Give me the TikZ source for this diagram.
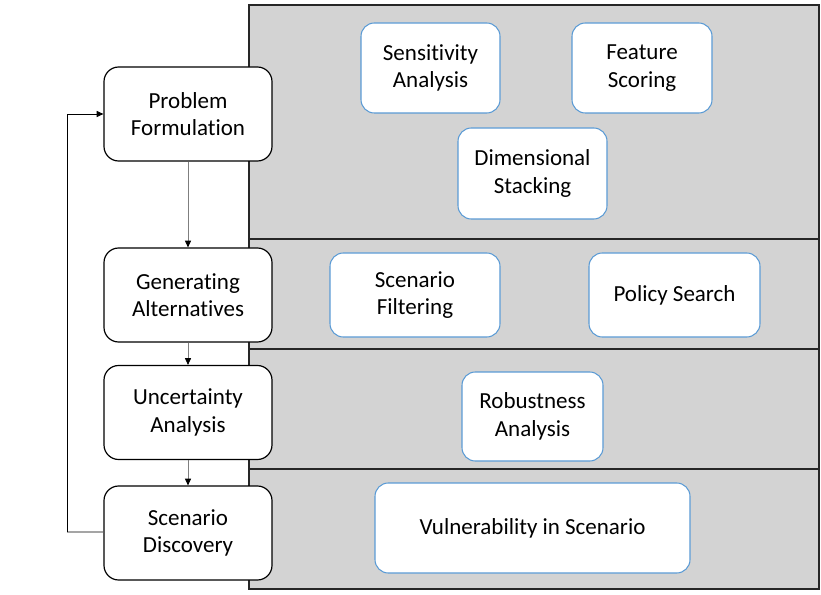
\documentclass[tikz,border=0pt]{standalone}
\usepackage{fontspec}
\setmainfont{Carlito}[Ligatures=NoCommon]
\usetikzlibrary{arrows.meta}
\definecolor{bandgray}{HTML}{D3D3D3}
\definecolor{boxblue}{HTML}{5B9BD5}
\definecolor{linegray}{HTML}{7F7F7F}
\tikzset{
  band/.style={draw=black!85, fill=bandgray, line width=1pt},
  stage/.style={draw=black, fill=white, rounded corners=11pt, line width=0.9pt,
    align=center, inner sep=0pt, minimum width=126pt, minimum height=70.5pt,
    font=\fontsize{17.25pt}{20.5pt}\selectfont},
  tool/.style={draw=boxblue, fill=white, rounded corners=10pt, line width=0.8pt,
    align=center, inner sep=0pt, font=\fontsize{17.25pt}{20.5pt}\selectfont},
  flow/.style={draw=linegray, line width=0.6pt, -{Triangle[length=5pt,width=4.5pt,color=black]}},
}
\begin{document}
\begin{tikzpicture}[x=0.75pt,y=-0.75pt]
\useasboundingbox (0,0) rectangle (821,595);
% bands
\path[band] (249,5) rectangle (819,239);
\path[band] (249,239) rectangle (819,349);
\path[band] (249,349) rectangle (819,469);
\path[band] (249,469) rectangle (819,589);
% stages
\node[stage] (pf) at (188,114) {Problem\\Formulation};
\node[stage] (ga) at (188,295) {Generating\\Alternatives};
\node[stage] (ua) at (188,412.5) {Uncertainty\\Analysis};
\node[stage] (sd) at (188,533) {Scenario\\Discovery};
% tools
\node[tool, minimum width=104.25pt, minimum height=67.5pt] (sa) at (430.5,68) {Sensitivity\\Analysis};
\node[tool, minimum width=105pt, minimum height=67.5pt] (fs) at (642,68) {Feature\\Scoring};
\node[tool, minimum width=111.75pt, minimum height=68.25pt] (ds) at (532.5,173.5) {Dimensional\\Stacking};
\node[tool, minimum width=127.5pt, minimum height=63pt] (sf) at (415,295) {Scenario\\Filtering};
\node[tool, minimum width=128.25pt, minimum height=63pt] (ps) at (674.5,295) {Policy Search};
\node[tool, minimum width=105.75pt, minimum height=66.75pt] (ra) at (532.5,416.5) {Robustness\\Analysis};
\node[tool, minimum width=236.25pt, minimum height=67.5pt] (vs) at (532.5,528) {Vulnerability in Scenario};
% flow
\draw[flow] (pf.south) -- (ga.north);
\draw[flow] (ga.south) -- (ua.north);
\draw[flow] (ua.south) -- (sd.north);
\coordinate (fb) at (67,532);
\draw[draw=linegray!70, line width=0.9pt] (sd.west |- fb) -- (fb);
\draw[line width=0.7pt, -{Triangle[length=5pt,width=4.5pt]}] (fb) |- (pf.west);
\end{tikzpicture}
\end{document}
